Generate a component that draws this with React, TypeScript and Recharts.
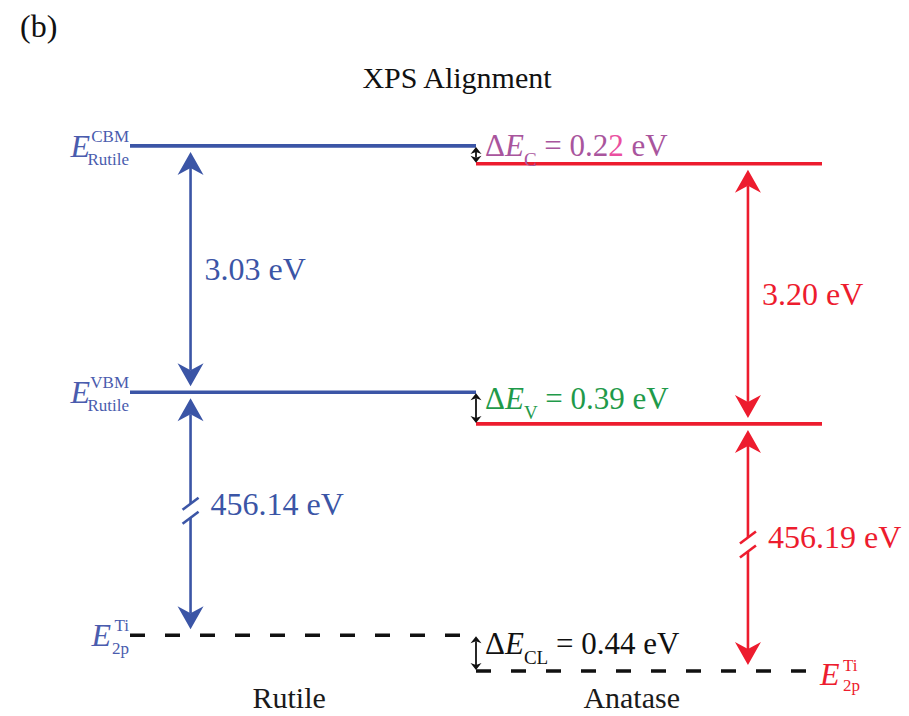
import React from 'react';
import { ComposedChart, Line, XAxis, YAxis, ReferenceLine, ReferenceDot } from 'recharts';

// energies in eV, relative to the rutile VBM
const materials = ['Rutile', 'Anatase'];
const materialTickX = [0.46, 1.45];
const segStart = [0, 1];
const segEnd = [1, 2];
const cbm = [3.03, 2.81];
const vbm = [0, -0.39];
const coreTi2p = [-456.14, -456.58];
const arrowX = [0.175, 1.786];

// broken energy axis: core levels are drawn this much higher
const AXIS_BREAK = 453.15;

const BLUE = '#3b55a6';
const BLUE_TEXT = '#4a5cae';
const RED = '#ed1c2e';
const PURPLE = '#a9559d';
const PINK = '#ea4f9f';
const GREEN = '#1f9a4a';
const FONT = '"Liberation Serif", "Times New Roman", serif';

const fmt = (v: number) => `${Math.abs(v).toFixed(2)} eV`;

const coreShown = coreTi2p.map((v) => v + AXIS_BREAK);

const levels = [
    { name: 'cbm', values: cbm, dashed: false },
    { name: 'vbm', values: vbm, dashed: false },
    { name: 'core', values: coreShown, dashed: true },
];

const lineSeries = levels.flatMap((l) =>
    materials.map((m, i) => ({
        id: `${l.name}-${m}`,
        color: l.dashed ? '#111111' : i === 0 ? BLUE : RED,
        dashed: l.dashed,
        data: [
            { x: segStart[i], e: l.values[i] },
            { x: segEnd[i], e: l.values[i] },
        ],
    }))
);

const head = (x: number, tip: number, dir: number, hl: number, hw: number, notch: number, fill: string) => {
    const b = tip + dir * hl;
    const n = tip + dir * (hl - notch);
    return <polygon points={`${x},${tip} ${x - hw},${b} ${x},${n} ${x + hw},${b}`} fill={fill} />;
};

// big double arrow spanning a gap, with optional axis-break marks
const gapArrow = ({ color, text, broken }: { color: string; text: string; broken?: boolean }) => (p: any) => {
    const x = p.x1;
    const top = Math.min(p.y1, p.y2) + 6;
    const bot = Math.max(p.y1, p.y2) - 6;
    const mid = (top + bot) / 2;
    const hl = 23, hw = 13, notch = 7;
    const s0 = top + hl - notch;
    const s1 = bot - hl + notch;
    const yb = mid - 3;
    const sw = 2.6;
    return (
        <g>
            {broken ? (
                <>
                    <line x1={x} y1={s0} x2={x} y2={yb - 7} stroke={color} strokeWidth={sw} />
                    <line x1={x} y1={yb + 7} x2={x} y2={s1} stroke={color} strokeWidth={sw} />
                    <line x1={x - 8} y1={yb - 1} x2={x + 8} y2={yb - 13} stroke={color} strokeWidth={sw} />
                    <line x1={x - 8} y1={yb + 13} x2={x + 8} y2={yb + 1} stroke={color} strokeWidth={sw} />
                </>
            ) : (
                <line x1={x} y1={s0} x2={x} y2={s1} stroke={color} strokeWidth={sw} />
            )}
            {head(x, top, 1, hl, hw, notch, color)}
            {head(x, bot, -1, hl, hw, notch, color)}
            <text
                x={x + (broken ? 20 : 14)}
                y={broken ? mid + 1 : mid + 11}
                fill={color}
                fontFamily={FONT}
                fontSize={32}
            >
                {text}
            </text>
        </g>
    );
};

// small black arrow for the band offsets
const offsetArrow = ({ sub, value, color, accentLast }: { sub: string; value: string; color: string; accentLast?: string }) => (p: any) => {
    const x = p.x1;
    const top = Math.min(p.y1, p.y2) + 1;
    const bot = Math.max(p.y1, p.y2) - 1;
    const mid = (top + bot) / 2;
    return (
        <g>
            <line x1={x} y1={top + 5} x2={x} y2={bot - 5} stroke="#111" strokeWidth={1.8} />
            {head(x, top, 1, 7, 5.5, 2, '#111')}
            {head(x, bot, -1, 7, 5.5, 2, '#111')}
            <text x={x + 9} y={mid + 1} fill={color} fontFamily={FONT} fontSize={31}>
                <tspan>Δ</tspan>
                <tspan fontStyle="italic">E</tspan>
                <tspan fontSize={19} dy={10}>{sub}</tspan>
                <tspan dy={-10}>{` = ${accentLast ? value.slice(0, -4) : value}`}</tspan>
                {accentLast && <tspan fill={accentLast}>{value.slice(-4, -3)}</tspan>}
                {accentLast && <tspan>{value.slice(-3)}</tspan>}
            </text>
        </g>
    );
};

const levelLabel = ({ sup, sub, color, side, eGap }: { sup: string; sub: string; color: string; side: 'left' | 'right'; eGap: number }) => (p: any) => {
    const { cx, cy } = p;
    if (side === 'left') {
        return (
            <g fontFamily={FONT} fill={color}>
                <text x={cx - eGap} y={cy + 11} textAnchor="end" fontStyle="italic" fontSize={32}>E</text>
                <text x={cx - 1} y={cy - 4} textAnchor="end" fontSize={17}>{sup}</text>
                <text x={cx - 1} y={cy + 19} textAnchor="end" fontSize={17}>{sub}</text>
            </g>
        );
    }
    return (
        <g fontFamily={FONT} fill={color}>
            <text x={cx - 2} y={cy + 14} fontStyle="italic" fontSize={32}>E</text>
            <text x={cx + 21} y={cy + 0} fontSize={17}>{sup}</text>
            <text x={cx + 21} y={cy + 20} fontSize={17}>{sub}</text>
        </g>
    );
};

const MaterialTick = (p: any) => (
    <text x={p.x} y={p.y + 3} textAnchor="middle" fontFamily={FONT} fontSize={30} fill="#1a1a1a">
        {materials[p.index]}
    </text>
);

export default function App() {
    return (
        <div style={{ position: 'absolute', left: 0, top: 0, width: 909, height: 716, background: '#fff' }}>
            <div style={{ position: 'absolute', left: 20, top: 10, fontFamily: FONT, fontSize: 32, lineHeight: '32px', color: '#111' }}>
                (b)
            </div>
            <div style={{ position: 'absolute', left: 0, width: 914, top: 63, textAlign: 'center', fontFamily: FONT, fontSize: 30, lineHeight: '30px', color: '#111' }}>
                XPS Alignment
            </div>
            <ComposedChart width={909} height={716} margin={{ top: 63, right: 87, left: 130, bottom: 0 }}>
                <XAxis
                    type="number"
                    dataKey="x"
                    domain={[0, 2]}
                    allowDataOverflow
                    ticks={materialTickX}
                    tick={<MaterialTick />}
                    axisLine={false}
                    tickLine={false}
                    height={19}
                    interval={0}
                />
                <YAxis type="number" domain={[-3.75, 4.05]} allowDataOverflow hide width={0} />
                {lineSeries.map((s) => (
                    <Line
                        key={s.id}
                        data={s.data}
                        dataKey="e"
                        type="linear"
                        stroke={s.color}
                        strokeWidth={s.dashed ? 3.5 : 3.6}
                        strokeDasharray={s.dashed ? '15 20' : undefined}
                        dot={false}
                        activeDot={false}
                        isAnimationActive={false}
                    />
                ))}

                {/* band gaps */}
                <ReferenceLine
                    segment={[{ x: arrowX[0], y: cbm[0] }, { x: arrowX[0], y: vbm[0] }]}
                    shape={gapArrow({ color: BLUE, text: fmt(cbm[0] - vbm[0]) })}
                />
                <ReferenceLine
                    segment={[{ x: arrowX[1], y: cbm[1] }, { x: arrowX[1], y: vbm[1] }]}
                    shape={gapArrow({ color: RED, text: fmt(cbm[1] - vbm[1]) })}
                />
                {/* VBM to Ti 2p core level (broken axis) */}
                <ReferenceLine
                    segment={[{ x: arrowX[0], y: vbm[0] }, { x: arrowX[0], y: coreShown[0] }]}
                    shape={gapArrow({ color: BLUE, text: fmt(vbm[0] - coreTi2p[0]), broken: true })}
                />
                <ReferenceLine
                    segment={[{ x: arrowX[1], y: vbm[1] }, { x: arrowX[1], y: coreShown[1] }]}
                    shape={gapArrow({ color: RED, text: fmt(vbm[1] - coreTi2p[1]), broken: true })}
                />

                {/* offsets */}
                <ReferenceLine
                    segment={[{ x: segEnd[0], y: cbm[0] }, { x: segEnd[0], y: cbm[1] }]}
                    shape={offsetArrow({ sub: 'C', value: fmt(cbm[0] - cbm[1]), color: PURPLE, accentLast: PINK })}
                />
                <ReferenceLine
                    segment={[{ x: segEnd[0], y: vbm[0] }, { x: segEnd[0], y: vbm[1] }]}
                    shape={offsetArrow({ sub: 'V', value: fmt(vbm[0] - vbm[1]), color: GREEN })}
                />
                <ReferenceLine
                    segment={[{ x: segEnd[0], y: coreShown[0] }, { x: segEnd[0], y: coreShown[1] }]}
                    shape={offsetArrow({ sub: 'CL', value: fmt(coreTi2p[0] - coreTi2p[1]), color: '#111' })}
                />

                {/* level labels */}
                <ReferenceDot x={segStart[0]} y={cbm[0]} r={0}
                    shape={levelLabel({ sup: 'CBM', sub: 'Rutile', color: BLUE_TEXT, side: 'left', eGap: 40 })} />
                <ReferenceDot x={segStart[0]} y={vbm[0]} r={0}
                    shape={levelLabel({ sup: 'VBM', sub: 'Rutile', color: BLUE_TEXT, side: 'left', eGap: 40 })} />
                <ReferenceDot x={segStart[0]} y={coreShown[0]} r={0}
                    shape={levelLabel({ sup: 'Ti', sub: '2p', color: BLUE_TEXT, side: 'left', eGap: 19 })} />
                <ReferenceDot x={segEnd[1]} y={coreShown[1]} r={0}
                    shape={levelLabel({ sup: 'Ti', sub: '2p', color: RED, side: 'right', eGap: 0 })} />
            </ComposedChart>
        </div>
    );
}
